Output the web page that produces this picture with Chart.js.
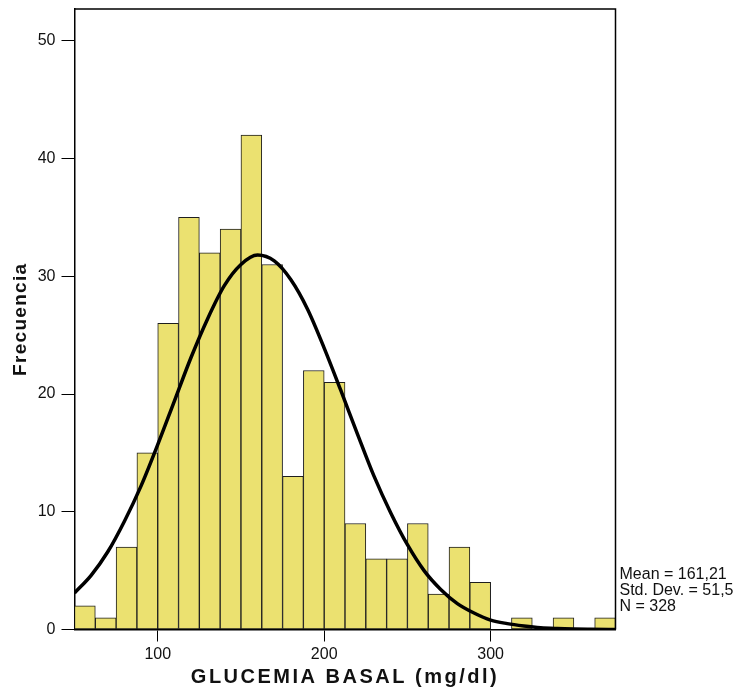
<!DOCTYPE html>
<html>
<head>
<meta charset="utf-8">
<script src="https://cdn.jsdelivr.net/npm/chart.js@4.4.1/dist/chart.umd.min.js"></script>
<style>
  html, body { margin: 0; padding: 0; background: #ffffff; }
  #wrap { width: 747px; height: 691px; }
</style>
</head>
<body>
<div id="wrap"><canvas id="histChart" width="747" height="691"></canvas></div>
<script>
// Histogram of GLUCEMIA BASAL, bins of 12.5 mg/dl starting at 50
const binWidth = 12.5;
const binStarts = [50, 62.5, 75, 87.5, 100, 112.5, 125, 137.5, 150, 162.5, 175, 187.5, 200,
                   212.5, 225, 237.5, 250, 262.5, 275, 287.5, 300, 312.5, 325, 337.5, 350, 362.5];
const counts = [2, 1, 7, 15, 26, 35, 32, 34, 42, 31, 13, 22, 21,
                9, 6, 6, 9, 3, 7, 4, 0, 1, 0, 1, 0, 1];

// normal curve
const curveX = [50, 60, 70, 80, 90, 100, 110, 120, 130, 140, 150, 160, 170, 180, 190, 200, 210,
                220, 230, 240, 250, 260, 270, 280, 290, 300, 310, 320, 330, 340, 350, 360, 375];
const curveY = [3.1, 4.6, 6.6, 9.2, 12.2, 15.7, 19.4, 23.1, 26.4, 29.2, 31.0, 31.8, 31.3, 29.7, 27.2, 23.9, 20.3,
                16.6, 13.0, 9.9, 7.2, 5.0, 3.4, 2.2, 1.4, 0.8, 0.5, 0.3, 0.15, 0.08, 0.04, 0.02, 0];

const xTicks = [100, 200, 300];
const yTicks = [0, 10, 20, 30, 40, 50];
const xTitle = 'GLUCEMIA BASAL (mg/dl)';
const yTitle = 'Frecuencia';
const statsLines = ['Mean = 161,21', 'Std. Dev. = 51,5', 'N = 328'];

const barData = [];
for (let i = 0; i < binStarts.length; i++) {
    barData.push({ x: binStarts[i] + binWidth / 2, y: counts[i] });
}
const lineData = [];
for (let i = 0; i < curveX.length; i++) {
    lineData.push({ x: curveX[i], y: curveY[i] });
}

const FONT = '"Liberation Sans", Arial, sans-serif';

// box round the plot, axis titles and the stats text
const extrasPlugin = {
    id: 'extras',
    afterDraw(chart) {
        const ctx = chart.ctx;
        const a = chart.chartArea;
        ctx.save();
        ctx.strokeStyle = '#000';
        ctx.lineWidth = 1.5;
        ctx.beginPath();
        ctx.moveTo(a.left, a.top);
        ctx.lineTo(a.right, a.top);
        ctx.lineTo(a.right, a.bottom);
        ctx.stroke();

        ctx.fillStyle = '#111';
        ctx.font = '16px ' + FONT;
        ctx.textAlign = 'left';
        ctx.textBaseline = 'alphabetic';
        for (let i = 0; i < statsLines.length; i++) {
            ctx.fillText(statsLines[i], a.right + 4, a.bottom - 51 + i * 16);
        }

        ctx.font = 'bold 20px ' + FONT;
        ctx.letterSpacing = '2.5px';
        ctx.textAlign = 'center';
        ctx.fillText(xTitle, (a.left + a.right) / 2, a.bottom + 53.5);

        ctx.font = 'bold 19px ' + FONT;
        ctx.letterSpacing = '1.3px';
        ctx.translate(21, (a.top + a.bottom) / 2);
        ctx.rotate(-Math.PI / 2);
        ctx.textBaseline = 'middle';
        ctx.fillText(yTitle, 0, 0);
        ctx.restore();
    }
};

let ctx = document.getElementById('histChart').getContext('2d');
let myChart = new Chart(ctx, {
    type: 'bar',
    data: {
        datasets: [{
            type: 'line',
            data: lineData,
            borderColor: '#000',
            borderWidth: 3.5,
            pointRadius: 0,
            cubicInterpolationMode: 'monotone',
            fill: false,
            order: 0
        }, {
            type: 'bar',
            data: barData,
            backgroundColor: 'rgb(235, 225, 112)',
            borderColor: '#1e1e1e',
            borderWidth: 1,
            borderSkipped: false,
            barPercentage: 1,
            categoryPercentage: 1,
            order: 1
        }]
    },
    plugins: [extrasPlugin],
    options: {
        responsive: false,
        animation: false,
        devicePixelRatio: 1,
        layout: { padding: { left: 0, right: 131.5, top: 9, bottom: 0 } },
        plugins: { legend: { display: false }, tooltip: { enabled: false } },
        scales: {
            x: {
                type: 'linear',
                min: 50,
                max: 375,
                offset: false,
                afterBuildTicks: (s) => { s.ticks = xTicks.map(v => ({ value: v })); },
                afterFit: (s) => { s.height = 61.5; s.paddingLeft = 0; s.paddingRight = 0; },
                grid: { offset: false, drawOnChartArea: false, drawTicks: true, tickLength: 12, color: '#000', lineWidth: 1 },
                border: { display: true, color: '#000', width: 1.5 },
                ticks: { color: '#111', padding: 3, maxRotation: 0, font: { family: FONT, size: 16 } }
            },
            y: {
                min: 0,
                max: 52.7,
                afterBuildTicks: (s) => { s.ticks = yTicks.map(v => ({ value: v })); },
                afterFit: (s) => { s.width = 74.5; s.paddingTop = 0; s.paddingBottom = 0; },
                grid: { drawOnChartArea: false, drawTicks: true, tickLength: 13, color: '#000', lineWidth: 1 },
                border: { display: true, color: '#000', width: 1.5 },
                ticks: { color: '#111', padding: 6, font: { family: FONT, size: 16 } }
            }
        }
    }
});
</script>
</body>
</html>
